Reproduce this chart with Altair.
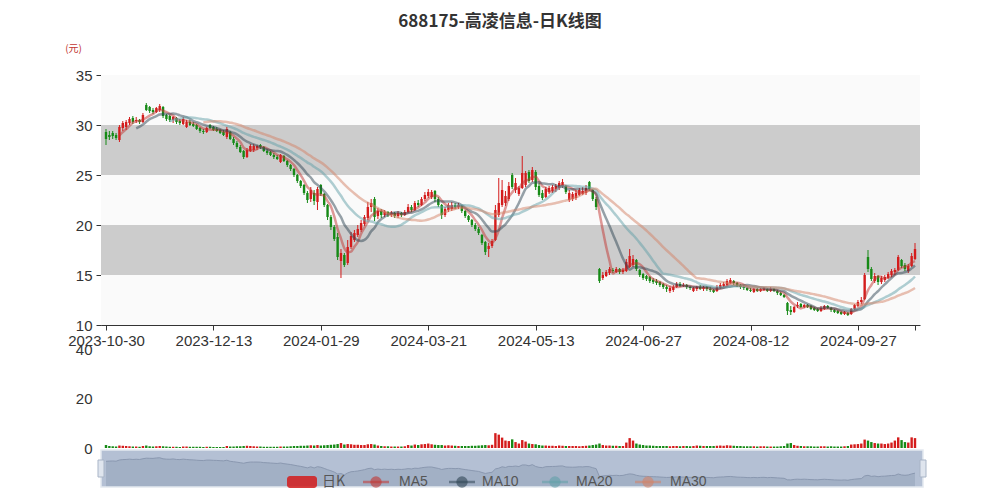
import json
import altair as alt
import numpy as np
import pandas as pd

# ---------------- data ----------------
title_text = "688175-高凌信息-日K线图"
unit_text = "(元)"
date_labels = ["2023-10-30", "2023-12-13", "2024-01-29", "2024-03-21",
               "2024-05-13", "2024-06-27", "2024-08-12", "2024-09-27"]
label_step = 32

opens = [
    29.3, 29.0, 29.2, 29.0, 28.5, 29.7, 29.8, 30.2, 30.7, 30.4,
    30.5, 30.3, 32.0, 31.8, 31.5, 31.3, 31.5, 31.8, 31.0, 30.9,
    30.5, 30.7, 30.4, 30.1, 29.8, 30.3, 30.1, 30.0, 29.7, 29.4,
    29.3, 30.0, 29.8, 29.6, 29.5, 29.3, 28.8, 29.3, 28.6, 28.2,
    27.8, 27.4, 26.8, 27.4, 27.5, 27.7, 28.0, 27.8, 27.4, 27.3,
    27.0, 26.8, 26.3, 26.9, 26.4, 26.0, 25.6, 25.0, 24.4, 24.0,
    23.2, 22.6, 23.2, 22.3, 24.0, 23.1, 22.0, 20.8, 19.8, 18.8,
    16.4, 17.0, 16.2, 17.8, 18.5, 19.0, 19.5, 20.1, 20.7, 21.8,
    22.6, 20.9, 21.4, 21.0, 21.3, 21.0, 21.2, 20.9, 21.2, 21.0,
    21.3, 21.8, 21.5, 22.2, 22.0, 22.6, 22.9, 22.8, 23.4, 22.6,
    22.0, 21.0, 21.5, 21.6, 22.0, 21.8, 21.9, 21.4, 20.9, 20.5,
    20.0, 19.6, 19.0, 18.3, 17.6, 17.9, 18.5, 21.0, 22.0, 22.2,
    22.6, 25.0, 23.5, 23.1, 23.7, 24.0, 25.3, 24.5, 25.3, 23.9,
    23.2, 22.8, 23.3, 23.4, 23.6, 23.7, 23.9, 23.9, 22.5, 22.6,
    22.7, 23.0, 23.1, 23.2, 24.3, 23.5, 22.6, 15.6, 14.7, 14.9,
    15.2, 15.5, 15.3, 15.6, 15.3, 15.4, 15.8, 16.0, 16.5, 15.5,
    15.1, 14.9, 14.8, 14.5, 14.4, 14.3, 14.1, 13.8, 13.4, 13.5,
    13.8, 14.1, 13.9, 14.0, 13.8, 13.4, 13.6, 13.8, 13.6, 13.8,
    13.6, 13.5, 13.4, 13.7, 13.9, 14.0, 14.2, 14.4, 14.2, 14.0,
    13.8, 13.7, 13.5, 13.3, 13.6, 13.4, 13.5, 13.6, 13.4, 13.6,
    13.4, 13.2, 13.0, 12.2, 11.5, 11.3, 11.9, 12.1, 11.8, 12.0,
    11.9, 11.7, 11.6, 11.4, 11.6, 11.9, 11.7, 11.5, 11.4, 11.3,
    11.1, 11.2, 11.1, 11.6, 11.9, 12.3, 12.6, 16.8, 15.6, 14.4,
    14.9, 14.3, 14.5, 14.7, 15.0, 15.3, 15.5, 16.5, 16.0, 15.4,
    15.9, 16.6,
]

closes = [
    28.6, 28.8, 28.9, 28.7, 29.8, 30.2, 30.3, 30.6, 30.3, 30.5,
    30.3, 31.0, 31.5, 31.4, 31.3, 31.7, 31.9, 30.9, 30.6, 30.5,
    30.8, 30.3, 30.2, 30.6, 30.3, 30.0, 29.9, 29.6, 29.4, 29.3,
    29.7, 29.7, 29.5, 29.4, 29.2, 29.0, 29.6, 28.6, 28.2, 27.8,
    27.3, 26.8, 27.5, 27.9, 27.9, 27.9, 27.8, 27.4, 27.2, 27.0,
    26.8, 26.6, 27.0, 26.4, 26.0, 25.6, 25.0, 24.4, 23.9, 23.2,
    22.5, 23.5, 22.4, 23.6, 23.1, 22.0, 20.8, 19.8, 18.6, 16.8,
    17.2, 16.0, 17.8, 18.9, 19.2, 19.6, 20.2, 20.8, 21.8, 22.2,
    20.8, 21.4, 21.0, 21.3, 21.0, 21.2, 20.9, 21.2, 21.0, 21.3,
    21.8, 21.5, 22.2, 22.0, 22.6, 23.0, 23.3, 23.3, 22.6, 22.0,
    21.0, 21.6, 22.0, 22.0, 21.8, 22.0, 21.4, 20.9, 20.5, 20.0,
    19.6, 19.2, 18.2, 17.3, 17.9, 18.4, 21.5, 22.2, 23.5, 22.9,
    23.9, 23.8, 24.2, 23.7, 25.2, 25.2, 24.4, 25.5, 23.8, 23.0,
    22.7, 23.6, 23.7, 23.8, 23.9, 24.2, 24.3, 23.3, 23.2, 23.1,
    23.2, 23.5, 23.4, 23.7, 23.6, 22.6, 21.8, 14.4, 15.0, 15.3,
    15.6, 15.4, 15.6, 15.3, 15.5, 16.3, 16.9, 16.6, 15.6, 15.0,
    14.7, 14.6, 14.4, 14.3, 14.2, 14.0, 13.8, 13.6, 13.7, 13.8,
    14.1, 13.9, 14.0, 13.8, 13.7, 13.7, 13.8, 13.6, 13.8, 13.6,
    13.5, 13.3, 13.8, 14.0, 14.1, 14.4, 14.5, 14.2, 13.9, 13.8,
    13.7, 13.5, 13.4, 13.6, 13.4, 13.6, 13.7, 13.4, 13.6, 13.4,
    13.2, 13.0, 12.8, 11.4, 11.3, 11.8, 12.0, 11.8, 12.0, 11.8,
    11.6, 11.5, 11.4, 11.7, 11.9, 11.7, 11.5, 11.3, 11.2, 11.1,
    11.3, 11.0, 11.6, 12.0, 12.3, 12.5, 15.0, 15.6, 14.6, 14.9,
    14.3, 14.7, 14.8, 15.1, 15.4, 15.5, 16.8, 15.9, 15.6, 15.9,
    16.9, 17.6,
]

highs = [
    29.6, 29.4, 29.4, 29.2, 30.0, 30.4, 30.5, 30.8, 30.9, 30.8,
    30.6, 31.2, 32.2, 31.9, 31.7, 31.8, 32.1, 31.9, 31.1, 31.0,
    30.9, 30.8, 30.6, 30.8, 30.5, 30.5, 30.3, 30.1, 29.8, 29.6,
    29.8, 30.1, 29.9, 29.8, 29.6, 29.5, 29.8, 29.4, 28.8, 28.4,
    28.0, 27.5, 27.7, 28.1, 28.1, 28.0, 28.1, 27.9, 27.6, 27.4,
    27.2, 27.0, 27.1, 27.0, 26.5, 26.1, 25.7, 25.1, 24.5, 24.1,
    23.4, 23.8, 23.5, 23.8, 24.1, 23.2, 22.1, 21.0, 20.0, 19.2,
    17.6, 17.2, 18.5, 19.3, 19.5, 20.0, 20.5, 21.0, 22.3, 22.6,
    22.8, 21.7, 21.6, 21.5, 21.4, 21.4, 21.3, 21.4, 21.3, 21.5,
    22.1, 22.0, 22.4, 22.5, 22.8, 23.3, 23.6, 23.5, 23.5, 22.8,
    22.1, 21.8, 22.2, 22.3, 22.2, 22.2, 22.0, 21.5, 21.0, 20.6,
    20.2, 19.8, 19.1, 18.4, 18.2, 18.6, 22.0, 24.7, 24.5, 23.4,
    24.3, 25.2, 24.7, 23.9, 26.9, 25.4, 25.5, 25.8, 25.5, 24.2,
    23.5, 23.8, 23.9, 24.0, 24.1, 24.4, 24.6, 24.0, 23.5, 23.3,
    23.5, 23.7, 23.8, 24.0, 24.4, 23.6, 22.8, 15.7, 15.3, 15.5,
    15.8, 15.7, 15.8, 15.7, 15.7, 16.6, 17.6, 17.0, 16.6, 15.6,
    15.2, 15.0, 14.9, 14.7, 14.6, 14.4, 14.2, 14.0, 13.9, 14.0,
    14.3, 14.3, 14.2, 14.1, 13.9, 13.8, 13.9, 14.0, 13.9, 13.9,
    13.8, 13.6, 14.0, 14.2, 14.3, 14.6, 14.7, 14.5, 14.3, 14.1,
    14.0, 13.8, 13.7, 13.7, 13.7, 13.7, 13.8, 13.7, 13.8, 13.7,
    13.5, 13.3, 13.1, 12.3, 11.9, 11.9, 12.3, 12.2, 12.1, 12.1,
    12.0, 11.8, 11.7, 11.9, 12.0, 12.0, 11.8, 11.6, 11.5, 11.4,
    11.4, 11.3, 11.7, 12.1, 12.5, 12.8, 15.2, 17.5, 15.8, 15.2,
    15.0, 14.9, 15.0, 15.3, 15.6, 15.7, 17.0, 16.6, 16.2, 16.1,
    17.2, 18.2,
]

lows = [
    28.0, 28.5, 28.6, 28.5, 28.3, 29.4, 29.5, 30.0, 30.1, 30.2,
    30.1, 30.2, 31.4, 31.2, 31.1, 31.2, 31.3, 30.7, 30.4, 30.3,
    30.2, 30.1, 30.0, 30.0, 29.7, 29.9, 29.8, 29.5, 29.2, 29.1,
    29.2, 29.6, 29.4, 29.3, 29.1, 28.9, 28.6, 28.5, 28.0, 27.6,
    27.2, 26.6, 26.7, 27.3, 27.3, 27.5, 27.6, 27.3, 27.0, 26.9,
    26.6, 26.5, 26.2, 26.3, 25.8, 25.4, 24.8, 24.2, 23.7, 23.0,
    22.2, 22.3, 22.0, 21.5, 22.9, 21.8, 20.5, 19.5, 18.4, 16.5,
    14.7, 15.8, 16.0, 17.6, 18.3, 18.8, 19.3, 19.9, 20.5, 21.3,
    20.4, 20.6, 20.7, 20.8, 20.8, 20.8, 20.7, 20.7, 20.8, 20.9,
    21.2, 21.3, 21.4, 21.8, 21.9, 22.4, 22.7, 22.6, 22.3, 21.8,
    20.6, 20.8, 21.3, 21.4, 21.6, 21.6, 21.2, 20.7, 20.3, 19.8,
    19.4, 19.0, 18.0, 17.0, 16.8, 17.7, 18.4, 20.8, 21.8, 21.9,
    22.4, 23.6, 23.2, 22.9, 23.6, 23.8, 24.2, 24.3, 23.5, 22.8,
    22.5, 22.7, 23.1, 23.2, 23.3, 23.5, 23.7, 23.1, 22.3, 22.4,
    22.5, 22.9, 23.0, 23.0, 23.4, 22.4, 21.5, 14.2, 14.5, 14.8,
    15.0, 15.2, 15.2, 15.1, 15.1, 15.3, 15.7, 15.8, 15.4, 14.8,
    14.5, 14.4, 14.2, 14.1, 14.0, 13.8, 13.6, 13.3, 13.2, 13.3,
    13.7, 13.8, 13.8, 13.6, 13.5, 13.3, 13.4, 13.5, 13.4, 13.4,
    13.3, 13.2, 13.3, 13.6, 13.8, 13.9, 14.1, 14.0, 13.8, 13.6,
    13.5, 13.4, 13.3, 13.2, 13.3, 13.3, 13.4, 13.3, 13.3, 13.3,
    13.0, 12.9, 12.7, 11.0, 11.0, 11.2, 11.7, 11.7, 11.7, 11.7,
    11.5, 11.4, 11.3, 11.3, 11.5, 11.6, 11.3, 11.2, 11.1, 11.0,
    11.0, 10.9, 11.0, 11.5, 11.8, 12.1, 12.5, 15.3, 14.4, 14.2,
    14.0, 14.1, 14.3, 14.6, 14.8, 15.0, 15.4, 15.7, 15.4, 15.2,
    15.8, 16.5,
]

volumes = [
    1.2, 0.8, 0.7, 0.6, 1.0, 0.9, 0.8, 0.7, 0.6, 0.6,
    0.5, 0.8, 1.0, 0.7, 0.6, 0.7, 0.8, 0.7, 0.6, 0.5,
    0.5, 0.5, 0.4, 0.6, 0.6, 0.5, 0.5, 0.5, 0.5, 0.4,
    0.5, 0.5, 0.4, 0.4, 0.4, 0.4, 0.8, 0.6, 0.6, 0.7,
    0.7, 0.8, 0.9, 0.8, 0.7, 0.6, 0.6, 0.5, 0.5, 0.5,
    0.5, 0.5, 0.6, 0.6, 0.6, 0.7, 0.8, 0.8, 0.9, 0.9,
    1.0, 1.1, 1.0, 1.2, 1.0, 1.1, 1.2, 1.3, 1.4, 1.6,
    2.0, 1.4, 1.6, 1.5, 1.3, 1.3, 1.2, 1.2, 1.5, 1.6,
    1.4, 1.0, 0.8, 0.7, 0.7, 0.6, 0.6, 0.6, 0.6, 0.7,
    1.2, 1.0, 1.4, 1.2, 1.5, 1.6, 1.8, 1.5, 1.3, 1.2,
    1.2, 1.0, 1.1, 1.0, 0.9, 0.8, 0.8, 0.8, 0.8, 0.9,
    0.9, 1.0, 1.1, 1.2, 1.1, 1.3, 6.0, 5.4, 4.2, 3.0,
    2.8, 3.5, 2.4, 1.8, 3.2, 2.6, 1.8, 1.6, 1.5, 1.2,
    1.0, 1.0, 0.9, 0.9, 0.8, 1.0, 0.9, 0.8, 0.8, 0.8,
    0.8, 0.7, 0.8, 0.9, 1.0, 1.2, 1.4, 1.8, 1.2, 1.0,
    1.0, 0.9, 0.9, 0.8, 0.8, 2.2, 4.0, 3.0, 1.8, 1.4,
    1.2, 1.0, 1.0, 0.9, 0.8, 0.8, 0.8, 0.8, 0.7, 0.8,
    0.8, 0.7, 0.8, 0.8, 0.7, 0.8, 1.0, 0.9, 0.8, 0.8,
    0.8, 0.8, 0.9, 1.0, 0.9, 1.1, 1.0, 0.9, 0.8, 0.8,
    0.7, 0.7, 0.7, 0.7, 0.6, 0.7, 0.7, 0.6, 0.6, 0.6,
    0.6, 0.7, 0.8, 1.8, 2.0, 1.2, 0.9, 0.8, 0.7, 0.7,
    0.7, 0.6, 0.6, 0.7, 0.7, 0.6, 0.7, 0.6, 0.6, 0.6,
    0.7, 0.8, 1.4, 1.5, 1.6, 1.8, 3.4, 3.0, 2.4, 2.0,
    1.8, 1.8, 1.6, 1.8, 2.2, 3.0, 4.3, 3.2, 2.4, 2.2,
    4.3, 4.0,
]

ma_names = ["MA5", "MA10", "MA20", "MA30"]
ma_windows = [5, 10, 20, 30]
ma_colors = ["#c23531", "#2f4554", "#61a0a8", "#d48265"]
up_color = "#d41c1c"
down_color = "#168a16"
band_edges = [10, 15, 20, 25, 30, 35]
band_shades = ["light", "gray", "light", "gray", "light"]
vol_ticks = [0, 20, 40]
legend_names = ["日K"] + ma_names

# ---------------- tables ----------------
n = len(closes)
df = pd.DataFrame({"i": range(n), "open": opens, "close": closes,
                   "high": highs, "low": lows, "vol": volumes})
df["dir"] = np.where(df["close"] >= df["open"], "up", "down")

s = pd.Series(closes)
rows = []
for name, w in zip(ma_names, ma_windows):
    m = s.rolling(w).mean()
    for i, v in enumerate(m):
        if not np.isnan(v):
            rows.append({"i": i, "ma": name, "v": float(v)})
ma_df = pd.DataFrame(rows)

band_df = pd.DataFrame({"lo": band_edges[:-1], "hi": band_edges[1:], "shade": band_shades})

# ---------------- layout (pixels, relative to plot origin) ----------------
W, H = 819, 412
PRICE_H = 250
FONT = "Liberation Sans"
CJK = "Noto Sans CJK SC"

x_scale = alt.Scale(domain=[0, n - 1], nice=False, zero=False)
price_scale = alt.Scale(domain=[10, 35], range=[PRICE_H, 0], nice=False, zero=False)
vol_scale = alt.Scale(domain=[0, 40], range=[373, 274], nice=False)
c_min, c_max = min(closes), max(closes)
pad = (c_max - c_min) * 0.3
shadow_lo, shadow_hi = c_min - pad, c_max + pad
shadow_scale = alt.Scale(domain=[shadow_lo, shadow_hi], range=[412, 376], nice=False, zero=False)

label_expr = (f"datum.value % {label_step} == 0 ? "
              f"{json.dumps(date_labels)}[datum.value / {label_step}] : ''")
x_axis = alt.Axis(values=list(range(0, n, label_step)) + [n - 1], labelExpr=label_expr,
                  title=None, grid=False, orient="bottom", offset=-(H - PRICE_H),
                  domainColor="#333", tickColor="#333", tickSize=5,
                  labelColor="#333", labelFont=FONT, labelFontSize=15, labelPadding=3,
                  labelOverlap=False, labelFlush=False)
X = alt.X("i:Q", scale=x_scale, axis=x_axis)

dir_color = alt.Color("dir:N", scale=alt.Scale(domain=["up", "down"],
                                                range=[up_color, down_color]), legend=None)

price_axis = alt.Axis(values=band_edges, orient="left", grid=False,
                      domainColor="#333", tickColor="#333", tickSize=5,
                      labelColor="#333", labelFont=FONT, labelFontSize=15, labelPadding=4,
                      title=unit_text, titleAngle=0, titleX=-28, titleY=-27,
                      titleAlign="center", titleBaseline="middle", titleColor="#c23531",
                      titleFont=CJK, titleFontSize=10, titleFontWeight="normal")

bands = alt.Chart(band_df).mark_rect().encode(
    x=alt.value(0), x2=alt.value(W),
    y=alt.Y("hi:Q", scale=price_scale, axis=price_axis),
    y2="lo:Q",
    color=alt.Color("shade:N", scale=alt.Scale(domain=["light", "gray"],
                                               range=["#fafafa", "#cccccc"]), legend=None),
)

wicks = alt.Chart(df).mark_rule(strokeWidth=1).encode(
    x=X, y=alt.Y("low:Q", scale=price_scale, axis=None), y2="high:Q", color=dir_color)

bodies = alt.Chart(df).mark_bar(size=2.4).encode(
    x=X, y=alt.Y("open:Q", scale=price_scale, axis=None), y2="close:Q", color=dir_color)

ma_lines = alt.Chart(ma_df).mark_line(strokeWidth=2.5, opacity=0.5, interpolate="monotone").encode(
    x=X, y=alt.Y("v:Q", scale=price_scale, axis=None),
    color=alt.Color("ma:N", scale=alt.Scale(domain=ma_names, range=ma_colors), legend=None))

vol_axis = alt.Axis(values=vol_ticks, orient="left", grid=False, domain=False,
                    ticks=True, tickOpacity=0, tickSize=5,
                    labelColor="#333", labelFont=FONT, labelFontSize=15, labelPadding=4,
                    title=None)
vol_bars = alt.Chart(df).mark_bar(size=2.4).encode(
    x=X, y=alt.Y("vol:Q", scale=vol_scale, axis=vol_axis), color=dir_color)

one = pd.DataFrame({"k": [0]})

slider_bg = alt.Chart(one).mark_rect(color="#b4c0d4").encode(
    x=alt.value(0), x2=alt.value(W + 3), y=alt.value(375), y2=alt.value(412))
shadow = alt.Chart(df).mark_area(color="#9eabc1", opacity=0.8,
                                 line={"color": "#8a98b0", "strokeWidth": 1}).encode(
    x=X, y=alt.Y("close:Q", scale=shadow_scale, axis=None), y2=alt.datum(shadow_lo))
slider_border = alt.Chart(one).mark_rect(fill=None, stroke="#e4e9f0", strokeWidth=1.5).encode(
    x=alt.value(0), x2=alt.value(W + 3), y=alt.value(375), y2=alt.value(412))
handles = [
    alt.Chart(one).mark_rect(color="#dfe5ee", stroke="#a9b5c7", strokeWidth=1).encode(
        x=alt.value(hx), x2=alt.value(hx + 6), y=alt.value(385), y2=alt.value(402))
    for hx in (-3, W)
]

# legend
leg_layers = []
leg_y = 407
leg_layers.append(alt.Chart(one).mark_rect(color=up_color, cornerRadius=3, opacity=0.85).encode(
    x=alt.value(186), x2=alt.value(216), y=alt.value(leg_y - 6), y2=alt.value(leg_y + 6)))
icon_x = [275, 361, 454, 547]
text_x = [221, 298, 381, 475, 569]
for name, col, cx in zip(ma_names, ma_colors, icon_x):
    leg_layers.append(alt.Chart(one).mark_rule(color=col, strokeWidth=2.5, opacity=0.55).encode(
        x=alt.value(cx - 13), x2=alt.value(cx + 13), y=alt.value(leg_y)))
    leg_layers.append(alt.Chart(one).mark_point(filled=True, color=col, opacity=0.6, size=130).encode(
        x=alt.value(cx), y=alt.value(leg_y)))
for name, tx in zip(legend_names, text_x):
    leg_layers.append(alt.Chart(pd.DataFrame({"t": [name]})).mark_text(
        align="left", baseline="middle", font=CJK if name == "日K" else FONT,
        fontSize=14, color="#555").encode(
        x=alt.value(tx), y=alt.value(leg_y), text="t:N"))

title = alt.Chart(pd.DataFrame({"t": [title_text]})).mark_text(
    align="center", baseline="middle", font=CJK, fontSize=17, fontWeight="bold",
    color="#333").encode(x=alt.value(399), y=alt.value(-53), text="t:N")

chart = alt.layer(
    bands, wicks, bodies, ma_lines, vol_bars,
    slider_bg, shadow, slider_border, *handles, *leg_layers, title,
).resolve_scale(
    y="independent", color="independent"
).properties(
    width=W, height=H,
    autosize=alt.AutoSizeParams(type="none"),
    padding={"left": 93, "top": 67, "right": 72, "bottom": 4},
    background="white",
).configure_view(strokeWidth=0)

chart.save("out.html", embed_options={"renderer": "svg", "actions": False})
